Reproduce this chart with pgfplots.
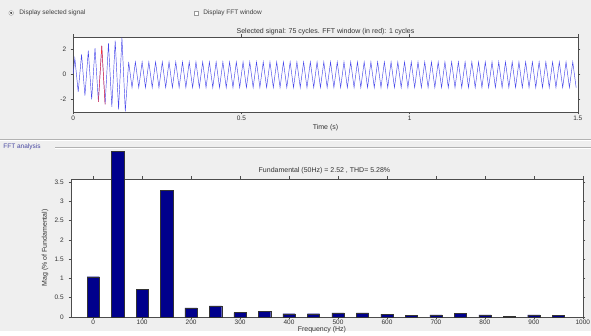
\documentclass[border=0pt]{standalone}
\usepackage{fontspec}
\setmainfont{Liberation Sans}
\usepackage{pgfplots}
\pgfplotsset{compat=1.18}
\definecolor{guibg}{RGB}{239,239,239}
\definecolor{barblue}{RGB}{0,0,140}
\definecolor{sigblue}{RGB}{70,70,235}
\definecolor{panelblue}{RGB}{70,70,160}
\begin{document}
\begin{tikzpicture}[x=1pt,y=1pt]
\fill[guibg] (0,0) rectangle (591,331);
% GUI controls
\draw[gray!80,fill=white] (11,318) circle (2.4);
\fill[black!75] (11,318) circle (1.2);
\node[anchor=west,font=\fontsize{6.5}{7}\selectfont,text=black!75,inner sep=0pt] at (19,318) {Display selected signal};
\draw[gray!80,fill=white] (194,316.2) rectangle (197.8,320);
\node[anchor=west,font=\fontsize{6.5}{7}\selectfont,text=black!75,inner sep=0pt] at (203,318) {Display FFT window};
% separators
\draw[gray!60] (0,192) -- (591,192);
\draw[white] (0,191) -- (591,191);
\node[anchor=west,font=\fontsize{6.5}{7}\selectfont,text=panelblue,inner sep=0pt] at (3,184) {FFT analysis};
\draw[gray!60] (55,184) -- (591,184);
\draw[white] (55,183) -- (591,183);

\begin{axis}[at={(73pt,219pt)},anchor=south west,scale only axis,
  width=505pt,height=75pt,
  xmin=0,xmax=1.5,ymin=-3,ymax=3,
  xtick={0,0.5,1,1.5},ytick={-2,0,2},
  xticklabels={0,0.5,1,1.5},
  axis background/.style={fill=white},
  axis line style={black!70},
  major tick length=2.5pt,
  tick align=outside,
  tick style={black!70},
  tick label style={font=\fontsize{6.5}{7}\selectfont,text=black!80},
  xticklabel style={inner sep=1pt},
  yticklabel style={xshift=-1pt},
  /pgf/number format/assume math mode=true,
  title={Selected signal: 75 cycles. FFT window (in red): 1 cycles},
  title style={font=\fontsize{7}{8}\selectfont,text=black!80,at={(axis description cs:0.5,1)},anchor=south,yshift=-4pt,inner sep=0pt},
  xlabel={Time (s)},
  xlabel style={font=\fontsize{7}{8}\selectfont,text=black!80,at={(axis description cs:0.5,0)},anchor=center,yshift=-16pt},
]
\addplot[sigblue,line width=0.45pt] coordinates {
(0,0)(0.005,1.3)(0.015,-1.4)(0.025,1.6)(0.035,-1.7)(0.045,1.9)(0.055,-2.0)(0.065,2.1)(0.075,-2.2)(0.085,2.3)(0.095,-2.4)(0.105,2.5)(0.115,-2.6)(0.125,2.7)(0.135,-2.8)(0.145,2.95)(0.155,-2.95)
(0.165,1)(0.175,-1.05)(0.185,1)(0.195,-1.05)(0.205,1)(0.215,-1.05)(0.225,1)(0.235,-1.05)(0.245,1)(0.255,-1.05)(0.265,1)(0.275,-1.05)(0.285,1)(0.295,-1.05)
(0.305,1)(0.315,-1.05)(0.325,1)(0.335,-1.05)(0.345,1)(0.355,-1.05)(0.365,1)(0.375,-1.05)(0.385,1)(0.395,-1.05)
(0.405,1)(0.415,-1.05)(0.425,1)(0.435,-1.05)(0.445,1)(0.455,-1.05)(0.465,1)(0.475,-1.05)(0.485,1)(0.495,-1.05)
(0.505,1)(0.515,-1.05)(0.525,1)(0.535,-1.05)(0.545,1)(0.555,-1.05)(0.565,1)(0.575,-1.05)(0.585,1)(0.595,-1.05)
(0.605,1)(0.615,-1.05)(0.625,1)(0.635,-1.05)(0.645,1)(0.655,-1.05)(0.665,1)(0.675,-1.05)(0.685,1)(0.695,-1.05)
(0.705,1)(0.715,-1.05)(0.725,1)(0.735,-1.05)(0.745,1)(0.755,-1.05)(0.765,1)(0.775,-1.05)(0.785,1)(0.795,-1.05)
(0.805,1)(0.815,-1.05)(0.825,1)(0.835,-1.05)(0.845,1)(0.855,-1.05)(0.865,1)(0.875,-1.05)(0.885,1)(0.895,-1.05)
(0.905,1)(0.915,-1.05)(0.925,1)(0.935,-1.05)(0.945,1)(0.955,-1.05)(0.965,1)(0.975,-1.05)(0.985,1)(0.995,-1.05)
(1.005,1)(1.015,-1.05)(1.025,1)(1.035,-1.05)(1.045,1)(1.055,-1.05)(1.065,1)(1.075,-1.05)(1.085,1)(1.095,-1.05)
(1.105,1)(1.115,-1.05)(1.125,1)(1.135,-1.05)(1.145,1)(1.155,-1.05)(1.165,1)(1.175,-1.05)(1.185,1)(1.195,-1.05)
(1.205,1)(1.215,-1.05)(1.225,1)(1.235,-1.05)(1.245,1)(1.255,-1.05)(1.265,1)(1.275,-1.05)(1.285,1)(1.295,-1.05)
(1.305,1)(1.315,-1.05)(1.325,1)(1.335,-1.05)(1.345,1)(1.355,-1.05)(1.365,1)(1.375,-1.05)(1.385,1)(1.395,-1.05)
(1.405,1)(1.415,-1.05)(1.425,1)(1.435,-1.05)(1.445,1)(1.455,-1.05)(1.465,1)(1.475,-1.05)(1.485,1)(1.495,-1.05)
};
\addplot[red!80,line width=0.45pt] coordinates {(0.075,-2.2)(0.085,2.3)(0.095,-2.4)};
\end{axis}

\begin{axis}[at={(71pt,14pt)},anchor=south west,scale only axis,
  width=512pt,height=138pt,
  xmin=-45,xmax=1000,ymin=0,ymax=3.58,
  xtick={0,100,200,300,400,500,600,700,800,900,1000},
  xticklabels={0,100,200,300,400,500,600,700,800,900,1000},
  ytick={0,0.5,1,1.5,2,2.5,3,3.5},
  yticklabels={0,0.5,1,1.5,2,2.5,3,3.5},
  axis background/.style={fill=white},
  axis line style={black!70},
  major tick length=2.5pt,
  tick align=outside,
  tick style={black!70},
  tick label style={font=\fontsize{6.5}{7}\selectfont,text=black!80},
  xticklabel style={inner sep=0.5pt},
  yticklabel style={xshift=-1.5pt},
  /pgf/number format/assume math mode=true,
  clip=false,
  ybar,bar width=25,
  title={Fundamental (50Hz) = 2.52 , THD= 5.28\%},
  title style={font=\fontsize{7}{8}\selectfont,text=black!80,at={(axis description cs:0.495,1)},anchor=south,yshift=-1pt,inner sep=0pt},
  xlabel={Frequency (Hz)},
  xlabel style={font=\fontsize{7}{8}\selectfont,text=black!80,at={(axis description cs:0.49,0)},anchor=center,yshift=-12.5pt},
  ylabel={Mag (\% of Fundamental)},
  ylabel style={font=\fontsize{7}{8}\selectfont,text=black!80,at={(axis description cs:-0.0508,0.5)},anchor=center},
]
\addplot[fill=barblue,draw=black!80,line width=0.3pt] coordinates {
(0,1.04)(50,4.30)(100,0.72)(150,3.29)(200,0.23)(250,0.28)(300,0.11)(350,0.15)(400,0.08)(450,0.08)
(500,0.10)(550,0.10)(600,0.07)(650,0.04)(700,0.05)(750,0.09)(800,0.05)(850,0.02)(900,0.05)(950,0.04)
};
\end{axis}
\end{tikzpicture}
\end{document}
